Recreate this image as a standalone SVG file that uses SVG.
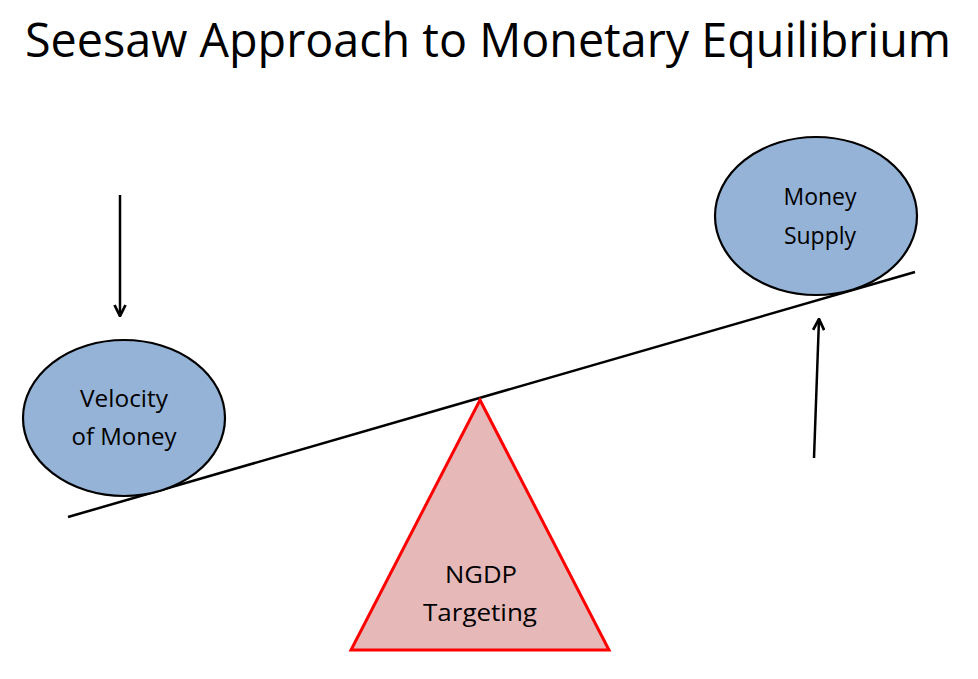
<svg xmlns="http://www.w3.org/2000/svg" width="978" height="679" viewBox="0 0 978 679">
<defs>
<style>
.t{font-family:"Open Sans","Liberation Sans",sans-serif;fill:#000;text-anchor:middle}
.lbl{font-size:23px}
.ell{fill:#95B3D7;stroke:#000;stroke-width:2.2}
.tri{fill:#E6B9B8;stroke:#FF0000;stroke-width:3;stroke-linejoin:miter}
.ln{stroke:#000;stroke-width:2.5;fill:none}
</style>
<marker id="ah" viewBox="0 0 10 10" refX="9" refY="5" markerWidth="5.5" markerHeight="5.5" orient="auto" markerUnits="strokeWidth">
<path d="M1,1 L9,5 L1,9" fill="none" stroke="#000" stroke-width="2"/>
</marker>
</defs>
<rect width="978" height="679" fill="#fff"/>
<text class="t" x="488" y="57" font-size="48" textLength="926" lengthAdjust="spacingAndGlyphs">Seesaw Approach to Monetary Equilibrium</text>
<g id="connectors">
<line class="ln" x1="68" y1="517" x2="915" y2="272"/>
<line class="ln" x1="120" y1="195" x2="120" y2="316" marker-end="url(#ah)"/>
<line class="ln" x1="814" y1="458" x2="819" y2="319" marker-end="url(#ah)"/>
</g>
<g id="velocity">
<ellipse class="ell" cx="124" cy="418" rx="101" ry="78"/>
<text class="t lbl" x="124" y="407" textLength="88" lengthAdjust="spacingAndGlyphs">Velocity</text>
<text class="t lbl" x="124" y="445" textLength="105" lengthAdjust="spacingAndGlyphs">of Money</text>
</g>
<g id="money-supply">
<ellipse class="ell" cx="816" cy="216" rx="101" ry="79"/>
<text class="t lbl" x="820" y="205">Money</text>
<text class="t lbl" x="820" y="244">Supply</text>
</g>
<g id="ngdp">
<polygon class="tri" points="480,400 609,650 351,650"/>
<text class="t lbl" x="481" y="583" textLength="72" lengthAdjust="spacingAndGlyphs">NGDP</text>
<text class="t lbl" x="480" y="621" textLength="114" lengthAdjust="spacingAndGlyphs">Targeting</text>
</g>
</svg>
